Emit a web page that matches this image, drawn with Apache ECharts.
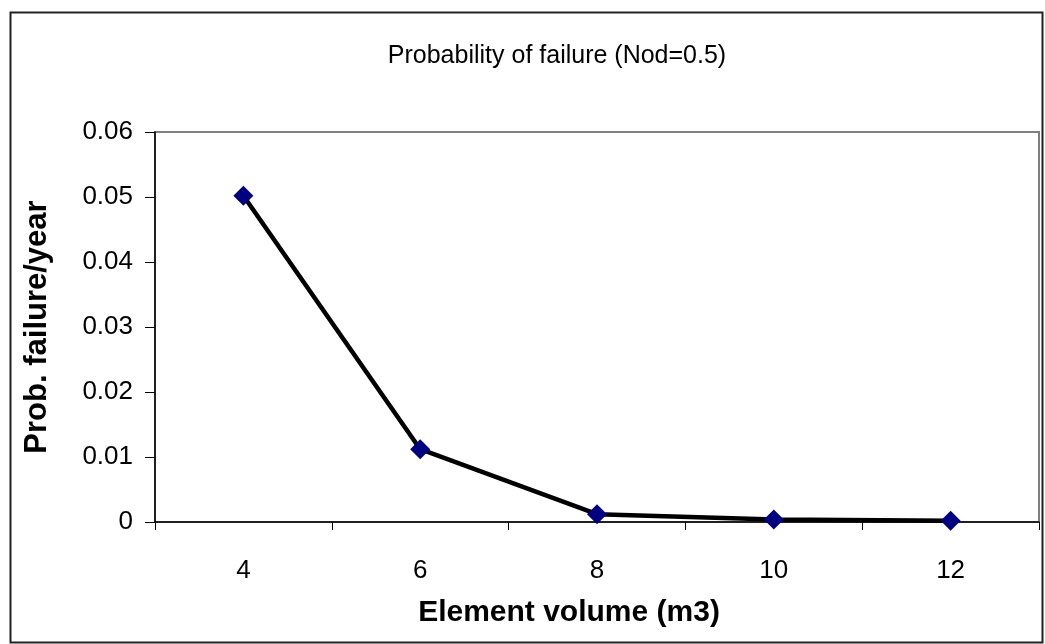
<!DOCTYPE html>
<html>
<head>
<meta charset="utf-8">
<script src="https://cdn.jsdelivr.net/npm/echarts@6/dist/echarts.min.js"></script>
<style>html,body{margin:0;padding:0;background:#fff}#c{width:1045px;height:644px}</style>
</head>
<body>
<div id="c"></div>
<script>
var categories = ['4', '6', '8', '10', '12'];
var probFailure = [0.0502, 0.0112, 0.0012, 0.0004, 0.0002];
var titleText = 'Probability of failure (Nod=0.5)';
var xTitle = 'Element volume (m3)';
var yTitle = 'Prob. failure/year';

var chart = echarts.init(document.getElementById('c'), null, {renderer: 'canvas'});
var font = 'Liberation Sans, Arial, sans-serif';
chart.setOption({
  animation: false,
  backgroundColor: '#fff',
  graphic: [{
    type: 'rect', left: 8, top: 10, z: -1,
    shape: {x: 0, y: 0, width: 1032, height: 630},
    style: {fill: 'none', stroke: '#222', lineWidth: 2}
  }],
  title: {
    text: titleText, left: 552, top: 39, textAlign: 'center',
    textStyle: {fontFamily: font, fontSize: 25, fontWeight: 'normal', color: '#000'}
  },
  grid: {
    left: 155, right: 6, top: 132, bottom: 122,
    show: true, borderColor: '#808080', borderWidth: 2, backgroundColor: '#fff'
  },
  xAxis: {
    type: 'category', data: categories, boundaryGap: true,
    name: xTitle, nameLocation: 'middle', nameGap: 76,
    nameTextStyle: {fontFamily: font, fontSize: 30, fontWeight: 'bold', color: '#000',
      padding: [0, 56, 0, 0]},
    axisLine: {lineStyle: {color: '#000', width: 1.5}},
    axisTick: {show: true, length: 8, lineStyle: {color: '#000', width: 1}},
    axisLabel: {fontFamily: font, fontSize: 26, color: '#000', margin: 36},
    splitLine: {show: false}
  },
  yAxis: {
    type: 'value', min: 0, max: 0.06, interval: 0.01,
    name: yTitle, nameLocation: 'middle', nameGap: 102, nameRotate: 90,
    nameTextStyle: {fontFamily: font, fontSize: 31, fontWeight: 'bold', color: '#000'},
    axisLine: {show: true, lineStyle: {color: '#000', width: 1.5}},
    axisTick: {show: true, length: 10, lineStyle: {color: '#000', width: 1}},
    axisLabel: {fontFamily: font, fontSize: 26, color: '#000', margin: 22,
      formatter: function (v) { return String(+v.toFixed(2)); }},
    splitLine: {show: false}
  },
  series: [{
    type: 'line', data: probFailure,
    lineStyle: {color: '#000', width: 4.5},
    symbol: 'diamond', symbolSize: 20,
    itemStyle: {color: '#000080', borderWidth: 0},
    z: 3
  }]
});
</script>
</body>
</html>
